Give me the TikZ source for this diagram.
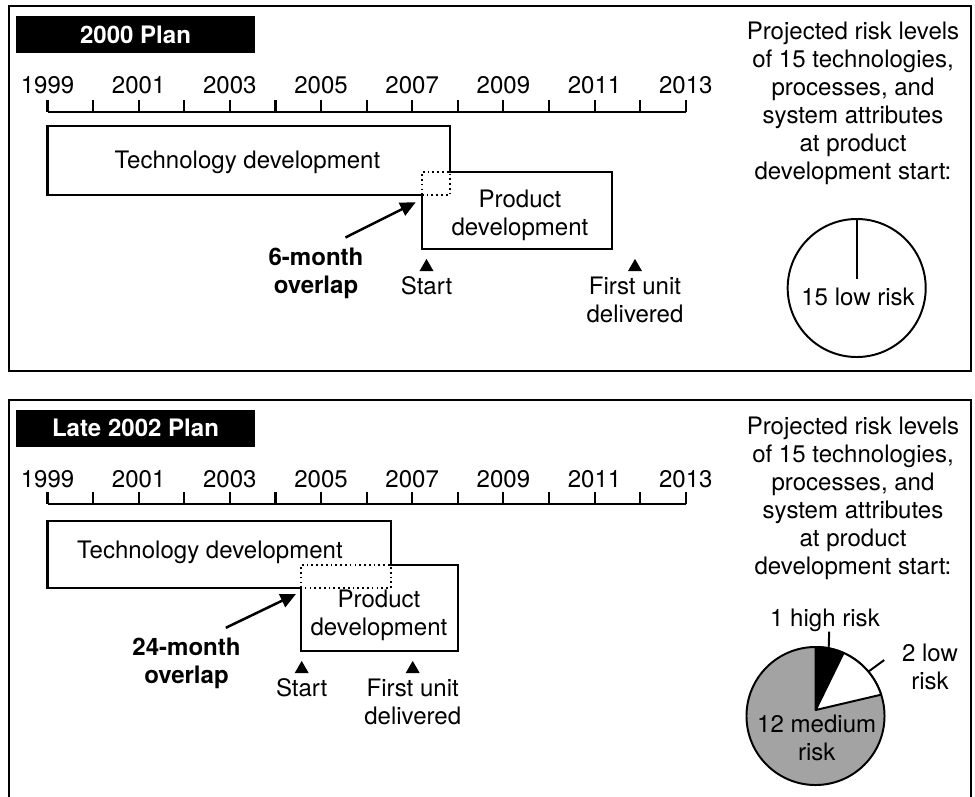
\documentclass[tikz,border=0pt]{standalone}
\usepackage{fontspec}
\setmainfont{TeX Gyre Heros}
\usepackage{tikz}
\usetikzlibrary{positioning}
\usetikzlibrary{calc,arrows.meta,shapes.geometric}
\definecolor{medgray}{gray}{0.64}
\newcommand{\txtfont}[0]{\fontsize{17.1}{19.9}\selectfont}
\tikzset{
  txt/.style={font=\txtfont, align=center, inner sep=0pt},
  bold/.style={font=\txtfont\bfseries, align=center, inner sep=0pt},
  title/.style={bold, fill=black, text=white, minimum width=5.975cm, minimum height=0.925cm},
  panel/.style={line width=1.7pt},
  axisline/.style={line width=2pt},
  yeartick/.style={line width=1.5pt},
  box/.style={line width=1.7pt},
  overlap/.style={line width=1.2pt, dash pattern=on 1.2pt off 2.2pt},
  ovarrow/.style={line width=1.8pt, -{Triangle[length=11pt,width=10pt]}},
  marker/.style={regular polygon, regular polygon sides=3, fill=black, inner sep=0pt, minimum size=11.5pt},
  pie/.style={circle, draw, line width=1.4pt, inner sep=0pt, outer sep=0pt, minimum size=3.45cm},
  leader/.style={line width=1.4pt}
}

\begin{document}
\begin{tikzpicture}[x=0.025cm, y=-0.025cm, node distance=3.5pt]
  \useasboundingbox (0,0) rectangle (975,797);

  \draw[panel] (9,6) rectangle (971,371);
  \node(titA) [title] at (135.5,34.5) {2000 Plan};
  \draw[axisline] (47.5,112) -- (685.7,112);
  \foreach \i in {0,...,14} \draw[yeartick] (47.5+\i*45.59,100) -- (47.5+\i*45.59,112);
  \foreach \yr [count=\i from 0] in {1999,2001,...,2013}
    \node(yA\yr) [txt] at (47.5+\i*91.18,85) {\yr};

  \draw[box] (422,195) -- (47.5,195) -- (47.5,126) -- (450,126) -- (450,172)
    -- (612,172) -- (612,249) -- (422,249) -- cycle;
  \draw[overlap] (422,195) rectangle (450,172);
  \node(techA) [txt] at (247.5,162.5) {Technology development};
  \node(prodA) [txt] at (520,215.5) {Product\\development};

  \node(sA) [marker] at (426.5,267) {};
  \node(startA) [txt, below=of sA] {Start};
  \node(fA) [marker] at (635,267) {};
  \node(firstA) [txt, below=of fA] {First unit\\delivered};

  \node(ovA) [bold] at (316,273) {6-month\\overlap};
  \coordinate(ovAend) at (415.7,202.3);
  \draw[ovarrow] ([xshift=-13pt, yshift=7pt]ovA.north east) -- (ovAend);

  \node(qA) [txt] at (853,103) {Projected risk levels\\of 15 technologies,\\processes, and\\system attributes\\at product\\development start:};
  \node(pieA) [pie, fill=white] at (856.7,288) {};
  \node(lowA) [txt] at (858,297) {15 low risk};
  \draw[leader] (pieA.north) -- ([yshift=6pt]lowA.north -| pieA.north);

  \draw[panel] (9,800) -- (9,400) -- (971,400) -- (971,800);
  \node(titB) [title] at (135.5,428) {Late 2002 Plan};
  \draw[axisline] (47.5,504) -- (685.7,504);
  \foreach \i in {0,...,14} \draw[yeartick] (47.5+\i*45.59,492) -- (47.5+\i*45.59,504);
  \foreach \yr [count=\i from 0] in {1999,2001,...,2013}
    \node(yB\yr) [txt] at (47.5+\i*91.18,479.5) {\yr};

  \draw[box] (301,588) -- (47.5,588) -- (47.5,521) -- (390.7,521) -- (390.7,565)
    -- (457.7,565) -- (457.7,651) -- (301,651) -- cycle;
  \draw[overlap] (301,588) rectangle (390.7,565);
  \node(techB) [txt] at (210,552.5) {Technology development};
  \node(prodB) [txt] at (379,615.3) {Product\\development};

  \node(sB) [marker] at (301.7,669) {};
  \node(startB) [txt, below=of sB] {Start};
  \node(fB) [marker] at (412.7,669) {};
  \node(firstB) [txt, below=of fB] {First unit\\delivered};

  \node(ovB) [bold] at (186.5,663) {24-month\\overlap};
  \coordinate(ovBend) at (296,594);
  \draw[ovarrow] ([xshift=-10.7pt, yshift=6.8pt]ovB.north east) -- (ovBend);

  \node(qB) [txt] at (853,498) {Projected risk levels\\of 15 technologies,\\processes, and\\system attributes\\at product\\development start:};
  \node(pieB) [pie, fill=medgray] at (815.5,716) {};
  \coordinate(apB) at (815.7,710);
  \filldraw[line width=1.4pt, fill=black, line join=round] (apB) -- (pieB.90) arc[start angle=90, end angle=66, radius=1.725cm] -- cycle;
  \filldraw[line width=1.4pt, fill=white, line join=round] (apB) -- (pieB.66) arc[start angle=66, end angle=18, radius=1.725cm] -- cycle;
  \node(hiB) [txt] at (825,620) {1 high risk};
  \node(loB) [txt] at (930,666.5) {2 low\\risk};
  \node(medB) [txt] at (816.7,738) {12 medium\\risk};
  \draw[leader] ([xshift=3pt]hiB.south) -- (pieB.79);
  \draw[leader] (pieB.40) -- ([xshift=-12.5pt, yshift=4.6pt]loB.west);
\end{tikzpicture}
\end{document}
